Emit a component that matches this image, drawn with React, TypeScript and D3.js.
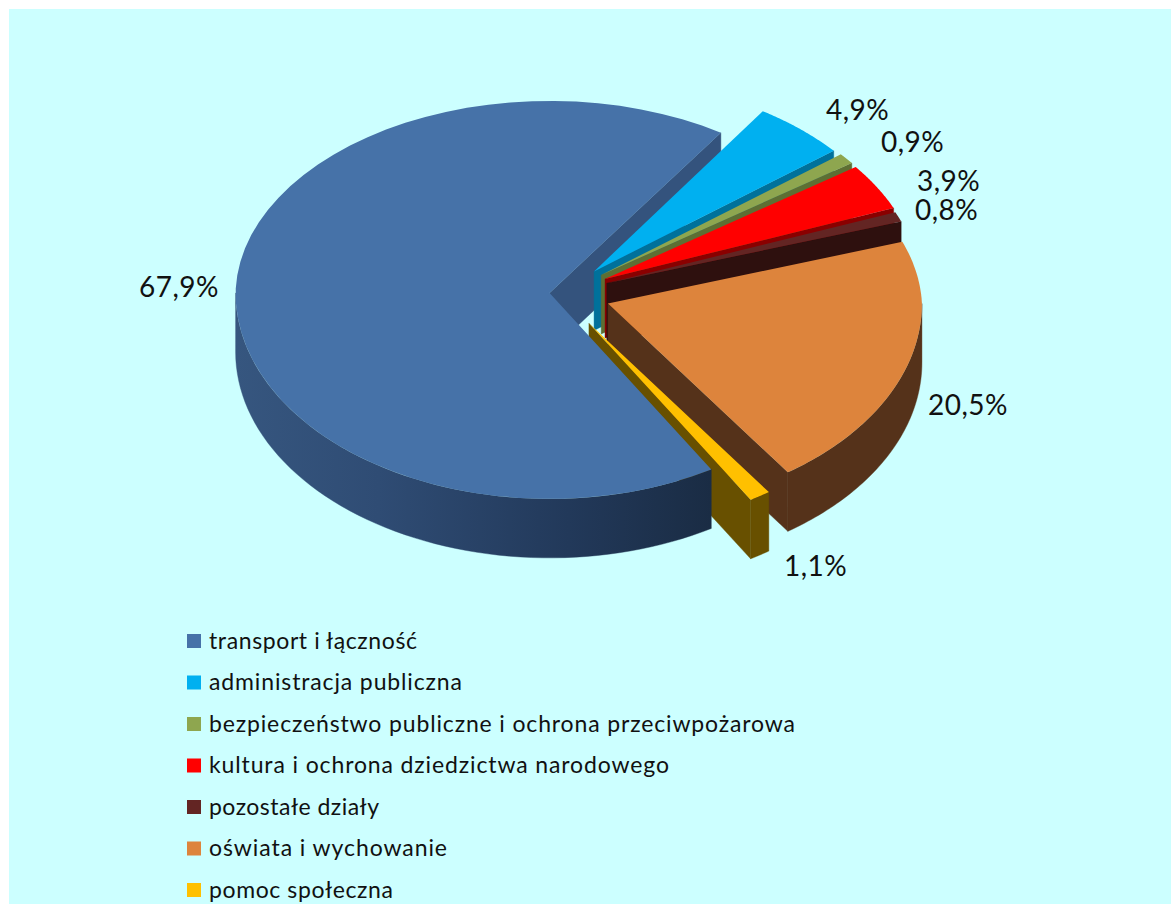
import React from "react";
import * as d3 from "d3";

const categories = [
  "transport i łączność",
  "administracja publiczna",
  "bezpieczeństwo publiczne i ochrona przeciwpożarowa",
  "kultura i ochrona dziedzictwa narodowego",
  "pozostałe działy",
  "oświata i wychowanie",
  "pomoc społeczna",
];
const shares = [67.9, 4.9, 0.9, 3.9, 0.8, 20.5, 1.1];
const explosions = [0.03, 0.166, 0.169, 0.167, 0.162, 0.164, 0.175];
const topColors = ["#4672a8", "#00b0f0", "#8ea64f", "#ff0000", "#632523", "#dd843c", "#ffc000"];
const wallColors = ["#34537d", "#00719b", "#5e6f33", "#8a0000", "#2e100e", "#55321a", "#685000"];
const labelAnchors: [number, number][] = [
  [139, 297], [826, 120], [881, 152], [917, 191], [915, 220], [928, 415], [784, 576],
];
const legendWidths = [208, 253, 586, 460, 170, 238, 184];

const W = 1171, H = 904;
const CX = 559, CY = 293, RX = 314, RY_BACK = 192, RY_FRONT = 206, DEPTH = 59;
const RY_EXPLODE_BACK = 176;
const RAD = Math.PI / 180;

const project = (t: number, ox: number, oy: number, shrinkK: number): [number, number] => {
  const c = Math.cos(t);
  const shrink = 1 - shrinkK * Math.max(c, 0);
  return [ox + RX * shrink * Math.sin(t), oy - (c > 0 ? RY_BACK : RY_FRONT) * c];
};
const apex = (t: number, e: number): [number, number] => {
  const c = Math.cos(t);
  return [CX + e * RX * Math.sin(t), CY - e * (c > 0 ? RY_EXPLODE_BACK : RY_FRONT) * c];
};
const line = d3.line<[number, number]>().x((d) => d[0]).y((d) => d[1]);

const arcs = d3
  .pie<number>()
  .sort(null)
  .startAngle(149 * RAD)
  .endAngle(149 * RAD + 2 * Math.PI)(shares);

const slices = arcs.map((a, i) => {
  const mid = (a.startAngle + a.endAngle) / 2;
  const [ox, oy] = apex(mid, explosions[i]);
  const shrinkK = i === 0 ? 0.012 : 0.03;
  const arcPts = (s: number, e: number) =>
    d3.range(0, 61).map((k) => project(s + ((e - s) * k) / 60, ox, oy, shrinkK));
  const down = (p: [number, number]): [number, number] => [p[0], p[1] + DEPTH];
  const rim = arcPts(a.startAngle, a.endAngle);
  const top = line([[ox, oy], ...rim])! + "Z";
  // cut wall on the clockwise end of the slice, which faces the viewer
  const endP = project(a.endAngle, ox, oy, shrinkK);
  const endWall = line([[ox, oy], endP, down(endP), [ox, oy + DEPTH]])! + "Z";
  // outer wall: only the rim part on the front half
  const outer: string[] = [];
  [0, 2 * Math.PI].forEach((k) => {
    const s = Math.max(a.startAngle, Math.PI / 2 + k);
    const e = Math.min(a.endAngle, (3 * Math.PI) / 2 + k);
    if (e > s) {
      const pts = arcPts(s, e);
      outer.push(line([...pts, ...pts.slice().reverse().map(down)])! + "Z");
    }
  });
  return { i, top, endWall, outer };
});

const FONT = "Lato, 'Open Sans', sans-serif";

function Slice({ s, part }: { s: (typeof slices)[number]; part: "cut" | "body" }) {
  const { i } = s;
  if (part === "cut") return <path d={s.endWall} fill={wallColors[i]} stroke={wallColors[i]} strokeWidth={0.4} />;
  const fill = i === 0 ? "url(#blueWall)" : wallColors[i];
  return (
    <g>
      {s.outer.map((d, k) => (
        <path key={k} d={d} fill={fill} stroke={fill} strokeWidth={0.4} />
      ))}
      <path d={s.top} fill={topColors[i]} />
    </g>
  );
}

export default function App() {
  const [blue, ...rest] = slices;
  return (
    <svg
      width={W}
      height={H}
      viewBox={`0 0 ${W} ${H}`}
      style={{ position: "absolute", left: 0, top: 0, display: "block" }}
    >
      <defs>
        <linearGradient id="blueWall" gradientUnits="userSpaceOnUse" x1={236} x2={711} y1={0} y2={0}>
          <stop offset="0" stopColor="#36567f" />
          <stop offset="0.3" stopColor="#2f4c74" />
          <stop offset="0.7" stopColor="#22395a" />
          <stop offset="1" stopColor="#1a2c44" />
        </linearGradient>
      </defs>
      <rect x={0} y={0} width={W} height={H} fill="#ffffff" />
      <rect x={9} y={9} width={W - 9} height={H - 9} fill="#ccffff" />

      <Slice s={blue} part="cut" />
      {rest.map((s) => (
        <g key={s.i}>
          <Slice s={s} part="cut" />
          <Slice s={s} part="body" />
        </g>
      ))}
      <Slice s={blue} part="body" />

      {shares.map((v, i) => (
        <text
          key={i}
          x={labelAnchors[i][0]}
          y={labelAnchors[i][1]}
          fontFamily={FONT}
          fontSize={28}
          letterSpacing={0.5}
          fill="#111"
        >
          {v.toFixed(1).replace(".", ",") + "%"}
        </text>
      ))}

      {categories.map((c, i) => {
        const y = 634 + i * 41.5;
        return (
          <g key={c}>
            <rect x={187} y={y} width={14} height={14} fill={topColors[i]} />
            <text
              x={209}
              y={y + 14.5}
              fontFamily={FONT}
              fontSize={23}
              textLength={legendWidths[i]}
              lengthAdjust="spacing"
              fill="#111"
            >
              {c}
            </text>
          </g>
        );
      })}
    </svg>
  );
}
